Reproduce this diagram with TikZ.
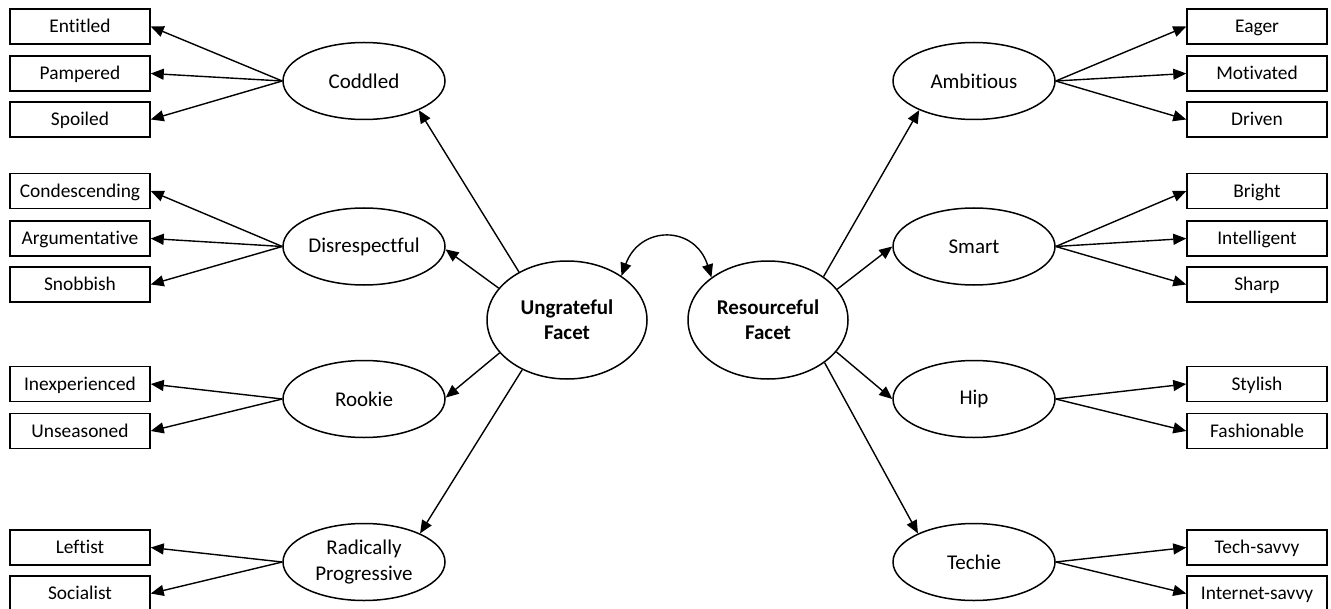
\documentclass[tikz,border=0pt]{standalone}
\usepackage{fontspec}
\setmainfont{Carlito}[Ligatures={NoCommon,NoContextual}]
\usetikzlibrary{shapes.geometric,arrows.meta}
\begin{document}
\begin{tikzpicture}[x=0.5pt,y=-0.5pt,
  box/.style={draw, line width=0.75pt, minimum width=70pt, minimum height=17.5pt, inner sep=0pt, text height=6.3pt, text depth=0pt, font=\fontsize{9.7}{11.6}\selectfont},
  oval/.style={draw, ellipse, line width=0.75pt, minimum width=81pt, minimum height=38.5pt, inner sep=0pt, align=center, font=\fontsize{10.5}{13}\selectfont},
  facet/.style={draw, ellipse, line width=0.75pt, minimum width=80pt, minimum height=59pt, inner sep=0pt, align=center, font=\bfseries\fontsize{10.5}{12.5}\selectfont},
  arr/.style={-{Triangle[length=6.5pt,width=5.5pt]}, line width=0.7pt},
  darr/.style={{Triangle[length=6.5pt,width=5.5pt]}-{Triangle[length=6.5pt,width=5.5pt]}, line width=0.7pt},
]
\useasboundingbox (0,0) rectangle (1331,609);

% central facets
\node[facet] (ung) at (567,320) {Ungrateful\\Facet};
\node[facet] (res) at (768,320) {Resourceful\\Facet};

% left ellipses
\node[oval] (cod) at (364,81) {Coddled};
\node[oval] (dis) at (364,246.5) {Disrespectful};
\node[oval] (roo) at (364,399) {Rookie};
\node[oval] (rad) at (364,562) {Radically\\Progressive};

% right ellipses
\node[oval] (amb) at (974,81) {Ambitious};
\node[oval] (sma) at (974,246.5) {Smart};
\node[oval] (hip) at (974,399) {Hip};
\node[oval] (tec) at (974,562) {Techie};

% left boxes
\node[box] (ent) at (80,26.5) {Entitled};
\node[box] (pam) at (80,73.5) {Pampered};
\node[box] (spo) at (80,119.5) {Spoiled};
\node[box] (con) at (80,191) {Condescending};
\node[box] (arg) at (80,238.5) {Argumentative};
\node[box] (sno) at (80,284.5) {Snobbish};
\node[box] (ine) at (80,384) {Inexperienced};
\node[box] (uns) at (80,431) {Unseasoned};
\node[box] (lef) at (80,547.5) {Leftist};
\node[box] (soc) at (80,593.5) {Socialist};

% right boxes
\node[box] (eag) at (1257,26.5) {Eager};
\node[box] (mot) at (1257,73.5) {Motivated};
\node[box] (dri) at (1257,119.5) {Driven};
\node[box] (bri) at (1257,191) {Bright};
\node[box] (int) at (1257,238.5) {Intelligent};
\node[box] (sha) at (1257,284.5) {Sharp};
\node[box] (sty) at (1257,384) {Stylish};
\node[box] (fas) at (1257,431) {Fashionable};
\node[box] (tsa) at (1257,547.5) {Tech-savvy};
\node[box] (isa) at (1257,593.5) {Internet-savvy};

% facet to sub-ellipses
\draw[arr] (ung.135) -- (cod.332);
\draw[arr] (ung.155) -- (dis.-2);
\draw[arr] (ung.206) -- (roo.1);
\draw[arr] (ung.228) -- (rad.27);
\draw[arr] (res.38) -- (amb.208);
\draw[arr] (res.24) -- (sma.180);
\draw[arr] (res.-25) -- (hip.180);
\draw[arr] (res.-37) -- (tec.153);

% correlation
\draw[darr] (ung.39) .. controls (640,225) and (695,225) .. (res.143);

% left sub-ellipses to boxes
\foreach \b in {ent,pam,spo} \draw[arr] (cod.west) -- (\b.east);
\foreach \b in {con,arg,sno} \draw[arr] (dis.west) -- (\b.east);
\foreach \b in {ine,uns} \draw[arr] (roo.west) -- (\b.east);
\foreach \b in {lef,soc} \draw[arr] (rad.west) -- (\b.east);

% right sub-ellipses to boxes
\foreach \b in {eag,mot,dri} \draw[arr] (amb.east) -- (\b.west);
\foreach \b in {bri,int,sha} \draw[arr] (sma.east) -- (\b.west);
\foreach \b in {sty,fas} \draw[arr] (hip.east) -- (\b.west);
\foreach \b in {tsa,isa} \draw[arr] (tec.east) -- (\b.west);
\end{tikzpicture}
\end{document}
